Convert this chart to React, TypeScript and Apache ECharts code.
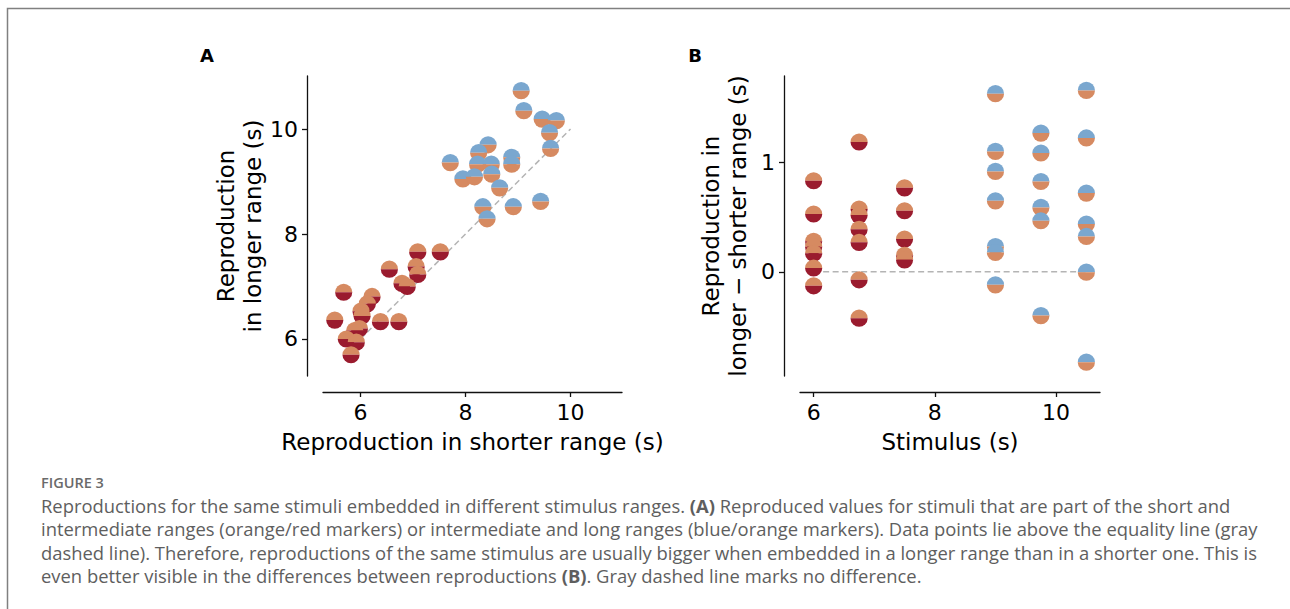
import React, { useEffect, useRef } from "react";
import * as echarts from "echarts";

// ---------- Data ----------
// Panel A: orange/red markers (short vs intermediate range)
const aShortRangeX = [7.09, 7.52, 6.55, 7.06, 7.09, 6.79, 6.89, 5.68, 6.22, 6.13, 6.01, 6.03, 5.51, 6.38, 6.73, 5.98, 5.89, 5.73, 5.92, 5.82];
const aShortRangeY = [7.66, 7.66, 7.33, 7.38, 7.23, 7.06, 7.0, 6.89, 6.81, 6.67, 6.53, 6.44, 6.36, 6.33, 6.33, 6.2, 6.16, 6.0, 5.94, 5.7];
// Panel A: blue/orange markers (intermediate vs long range)
const aLongRangeX = [9.06, 9.11, 9.46, 9.73, 9.6, 9.62, 8.43, 8.25, 7.71, 8.23, 8.49, 8.88, 8.88, 7.95, 8.17, 8.5, 8.65, 8.33, 8.41, 8.91, 9.43];
const aLongRangeY = [10.73, 10.35, 10.19, 10.16, 9.93, 9.63, 9.7, 9.55, 9.36, 9.33, 9.33, 9.46, 9.33, 9.05, 9.09, 9.14, 8.88, 8.52, 8.29, 8.52, 8.62];
// Equality line
const equalityLine = [6, 10];

// Panel B: differences (longer - shorter)
const bShortStimulus = [6, 6, 6, 6, 6, 6, 6, 6.75, 6.75, 6.75, 6.75, 6.75, 6.75, 6.75, 7.5, 7.5, 7.5, 7.5, 7.5];
const bShortDiff = [0.835, 0.53, 0.28, 0.23, 0.17, 0.035, -0.128, 1.19, 0.575, 0.52, 0.39, 0.27, -0.073, -0.425, 0.77, 0.56, 0.3, 0.15, 0.11];
const bLongStimulus = [9, 9, 9, 9, 9, 9, 9, 9.75, 9.75, 9.75, 9.75, 9.75, 9.75, 10.5, 10.5, 10.5, 10.5, 10.5, 10.5, 10.5];
const bLongDiff = [1.633, 1.104, 0.92, 0.651, 0.232, 0.177, -0.119, 1.272, 1.089, 0.828, 0.59, 0.468, -0.401, 1.663, 1.227, 0.722, 0.438, 0.324, -0.003, -0.828];
const zeroLine = [6, 10.5];

const aTicks = [6, 8, 10];
const bXTicks = [6, 8, 10];
const bYTicks = [0, 1];

const captionTitle = "FIGURE 3";
const captionLines = [
  "Reproductions for the same stimuli embedded in different stimulus ranges. {b|(A)} Reproduced values for stimuli that are part of the short and",
  "intermediate ranges (orange/red markers) or intermediate and long ranges (blue/orange markers). Data points lie above the equality line (gray",
  "dashed line). Therefore, reproductions of the same stimulus are usually bigger when embedded in a longer range than in a shorter one. This is",
  "even better visible in the differences between reproductions {b|(B)}. Gray dashed line marks no difference.",
];

// ---------- Styles ----------
const ORANGE = "#d68a61";
const RED = "#9a1b2e";
const BLUE = "#7aa7cf";
const FONT = "DejaVu Sans";
const R = 8.6;

function zip(xs: number[], ys: number[]) {
  return xs.map((x, i) => [x, ys[i]]);
}

function halfSeries(idx: number, data: number[][], top: string, bottom: string) {
  return {
    type: "custom",
    coordinateSystem: "cartesian2d",
    xAxisIndex: idx,
    yAxisIndex: idx,
    data,
    encode: { x: 0, y: 1 },
    z: 3,
    clip: false,
    silent: true,
    renderItem: (_params: any, api: any) => {
      const p = api.coord([api.value(0), api.value(1)]);
      return {
        type: "group",
        children: [
          {
            type: "sector",
            shape: { cx: p[0], cy: p[1], r: R, r0: 0, startAngle: Math.PI, endAngle: 2 * Math.PI, clockwise: true },
            style: { fill: top },
          },
          {
            type: "sector",
            shape: { cx: p[0], cy: p[1], r: R, r0: 0, startAngle: 0, endAngle: Math.PI, clockwise: true },
            style: { fill: bottom },
          },
        ],
      };
    },
  };
}

function xAxisCfg(idx: number, min: number, max: number, ticks: number[], name: string) {
  return {
    gridIndex: idx,
    type: "value",
    min,
    max,
    position: "bottom",
    offset: 16,
    axisLine: { show: true, onZero: false, lineStyle: { color: "#111", width: 1.3 } },
    axisTick: { show: true, customValues: ticks, length: 5, lineStyle: { color: "#111", width: 1.3 } },
    axisLabel: { customValues: ticks, fontSize: 22, color: "#000", fontFamily: FONT, margin: 9 },
    splitLine: { show: false },
    name,
    nameLocation: "middle",
    nameGap: 38,
    nameTextStyle: { fontSize: 23, color: "#000", fontFamily: FONT },
  };
}

function yAxisCfg(idx: number, min: number, max: number, ticks: number[], name: string, gap: number) {
  return {
    gridIndex: idx,
    type: "value",
    min,
    max,
    position: "left",
    offset: 16,
    axisLine: { show: true, onZero: false, lineStyle: { color: "#111", width: 1.3 } },
    axisTick: { show: true, customValues: ticks, length: 5, lineStyle: { color: "#111", width: 1.3 } },
    axisLabel: { customValues: ticks, fontSize: 22, color: "#000", fontFamily: FONT, margin: 9 },
    splitLine: { show: false },
    name,
    nameLocation: "middle",
    nameRotate: 90,
    nameGap: gap,
    nameTextStyle: { fontSize: 23, color: "#000", fontFamily: FONT, lineHeight: 27 },
  };
}

export default function App() {
  const ref = useRef<HTMLDivElement>(null);
  useEffect(() => {
    if (!ref.current) return;
    const chart = echarts.init(ref.current, undefined, { renderer: "svg" });
    const dashed = { type: [6, 3.5], color: "#b4b4b4", width: 1.5 };
    const captionStyle = { fontFamily: "Open Sans", fontSize: 18.4, fill: "#5e5e5e" };
    chart.setOption({
      animation: false,
      backgroundColor: "#fff",
      grid: [
        { left: 323, top: 76, width: 299, height: 300 },
        { left: 800, top: 76, width: 300, height: 300 },
      ],
      xAxis: [
        xAxisCfg(0, 5.286, 10.98, aTicks, "Reproduction in shorter range (s)"),
        xAxisCfg(1, 5.775, 10.725, bXTicks, "Stimulus (s)"),
      ],
      yAxis: [
        yAxisCfg(0, 5.295, 11.01, aTicks, "Reproduction\nin longer range (s)", 41),
        yAxisCfg(1, -0.955, 1.795, bYTicks, "Reproduction in\nlonger \u2212 shorter range (s)", 33),
      ],
      series: [
        {
          type: "line",
          xAxisIndex: 0,
          yAxisIndex: 0,
          data: [[equalityLine[0], equalityLine[0]], [equalityLine[1], equalityLine[1]]],
          symbol: "none",
          lineStyle: dashed,
          z: 2,
          silent: true,
        },
        {
          type: "line",
          xAxisIndex: 1,
          yAxisIndex: 1,
          data: [[zeroLine[0], 0], [zeroLine[1], 0]],
          symbol: "none",
          lineStyle: dashed,
          z: 2,
          silent: true,
        },
        halfSeries(0, zip(aShortRangeX, aShortRangeY), ORANGE, RED),
        halfSeries(0, zip(aLongRangeX, aLongRangeY), BLUE, ORANGE),
        halfSeries(1, zip(bShortStimulus, bShortDiff), ORANGE, RED),
        halfSeries(1, zip(bLongStimulus, bLongDiff), BLUE, ORANGE),
      ],
      graphic: [
        {
          type: "rect",
          shape: { x: 7.5, y: 8.5, width: 1400, height: 700 },
          style: { fill: "none", stroke: "#808080", lineWidth: 1.5 },
          silent: true,
        },
        {
          type: "text",
          x: 207,
          y: 55,
          style: { text: "A", font: `bold 18px "${FONT}"`, fill: "#000", textAlign: "center", textVerticalAlign: "middle" },
        },
        {
          type: "text",
          x: 695,
          y: 55,
          style: { text: "B", font: `bold 18px "${FONT}"`, fill: "#000", textAlign: "center", textVerticalAlign: "middle" },
        },
        {
          type: "text",
          x: 41,
          y: 482,
          style: {
            text: captionTitle,
            fontFamily: "Open Sans",
            fontSize: 14.5,
            fontWeight: 600,
            fill: "#6a6a6a",
            textVerticalAlign: "middle",
          },
        },
        ...captionLines.map((line, i) => ({
          type: "text",
          x: 41,
          y: 505 + i * 23.5,
          style: {
            text: line,
            ...captionStyle,
            textVerticalAlign: "middle",
            rich: { b: { ...captionStyle, fontWeight: "bold" } },
          },
        })),
      ],
    });
    return () => chart.dispose();
  }, []);
  return (
    <div
      ref={ref}
      style={{ position: "absolute", left: 0, top: 0, width: 1290, height: 609, background: "#fff" }}
    />
  );
}
